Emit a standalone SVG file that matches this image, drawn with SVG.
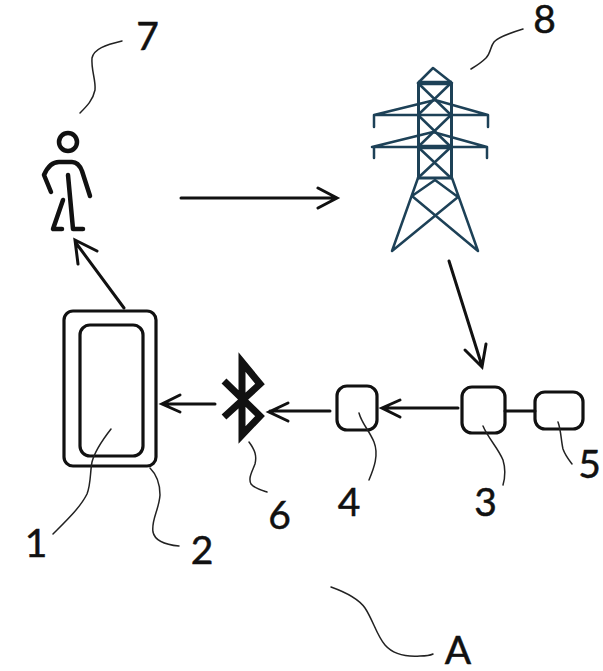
<svg xmlns="http://www.w3.org/2000/svg" width="603" height="671" viewBox="0 0 603 671">
<style>
.t{font-family:"Lato","Open Sans","Liberation Sans",sans-serif;font-size:39px;fill:#111;stroke:#111;stroke-width:.5;text-anchor:middle}
.l{fill:none;stroke:#222;stroke-width:1.5;stroke-linecap:round}
.a{fill:none;stroke:#111;stroke-width:3;stroke-linecap:round;stroke-linejoin:miter}
.b{fill:none;stroke:#111;stroke-width:3.2}
.p{fill:none;stroke:#111;stroke-width:4.5;stroke-linecap:round;stroke-linejoin:round}
.w{fill:none;stroke:#1d4157;stroke-width:2.5;stroke-linecap:round;stroke-linejoin:round}
.W{fill:none;stroke:#1d4157;stroke-width:4.5}
.V{fill:none;stroke:#1d4157;stroke-width:3}
</style>
<rect width="603" height="671" fill="#fff"/>
<g id="connectors">
<path class="a" d="M181 198H336M318 188L337 198L318 208"/>
<path class="a" d="M449 261L482 366M465 350L482 367L486 344"/>
<path class="a" d="M124 308L76 243M78 264L75 240L97 251"/>
<path class="a" d="M215 404H163M180 395L162 404L180 412"/>
<path class="a" d="M330 411H270M288 403L269 412L288 421"/>
<path class="a" d="M458 408H383M400 400L382 408L400 417"/>
<path class="a" d="M505 411H535"/>
</g>
<g id="node-2"><rect class="b" x="64" y="311" width="92" height="155" rx="9"/></g>
<g id="node-1"><rect class="b" x="80" y="325" width="63" height="131" rx="10"/></g>
<g id="node-4"><rect class="b" x="337" y="386" width="40" height="44" rx="10"/></g>
<g id="node-3"><rect class="b" x="462" y="387" width="43" height="46" rx="10"/></g>
<g id="node-5"><rect class="b" x="535" y="392" width="48" height="37" rx="10"/></g>
<g id="node-6-bluetooth"><path d="M224 381L260 416L242 435V362L260 384L224 417" fill="none" stroke="#111" stroke-width="7" stroke-linejoin="miter" stroke-miterlimit="8"/></g>
<g id="node-7-person">
<circle class="p" cx="68" cy="142" r="9"/>
<path class="p" d="M51 192L44 175C47 168 52 162 59 162H72C77 162 80 166 82 171L90 196"/>
<path class="p" d="M68 175L73 229H83M63 200L53 229H62"/>
</g>
<g id="node-8-tower">
<path class="W" d="M418 83H452M418 147H452"/>
<path class="V" d="M418.500 83V178M451.500 83V178M417 178H453"/>
<path class="w" d="M418 83L433 68L452 83"/>
<path class="w" d="M418 83L451 115M451 83L418 115M418 115L451 147M451 115L418 147M418 147L451 178M451 147L418 178"/>
<path class="w" d="M374 115H488M372 147H487M374 115L435 100L488 115M372 147L433 132L487 147M374 115V127M488 115V127M374 147V158M487 147V158"/>
<path class="w" d="M418 178L392 251L458 197L435 180L412 196L478 251L452 178"/>
</g>
<g id="leaders">
<path class="l" d="M122 41C105 45 94 49 92 58C91 70 96 80 95 90C93 100 87 106 80 113"/>
<path class="l" d="M523 29C510 33 498 37 494 42C490 47 491 53 486 58C482 62 476 66 471 69"/>
<path class="l" d="M249 442C255 450 257 456 255 464C252 472 248 478 251 484C254 488 261 490 267 492"/>
<path class="l" d="M359 413C362 424 369 430 374 442C379 455 374 468 369 480"/>
<path class="l" d="M483 426C488 438 498 448 503 460C506 470 505 478 503 485"/>
<path class="l" d="M558 422C561 430 561 440 563 449C565 455 569 460 572 464"/>
<path class="l" d="M111 429C104 438 95 450 92 462C90 472 91 484 87 494C80 508 65 522 53 534"/>
<path class="l" d="M150 468C156 474 160 484 160 495C159 510 151 520 153 532C155 542 168 545 179 546"/>
<path class="l" d="M331 587C345 592 358 598 365 608C373 620 377 636 385 645C392 653 405 657 420 656C426 656 431 655 433 654"/>
</g>
<g id="labels">
<text class="t" x="147.500" y="50">7</text>
<text class="t" x="544.500" y="33">8</text>
<text class="t" x="36" y="557">1</text>
<text class="t" x="202" y="564">2</text>
<text class="t" x="485.500" y="516">3</text>
<text class="t" x="349" y="516">4</text>
<text class="t" x="589.500" y="478">5</text>
<text class="t" x="279.500" y="529">6</text>
<text class="t" x="458" y="664">A</text>
</g>
</svg>
